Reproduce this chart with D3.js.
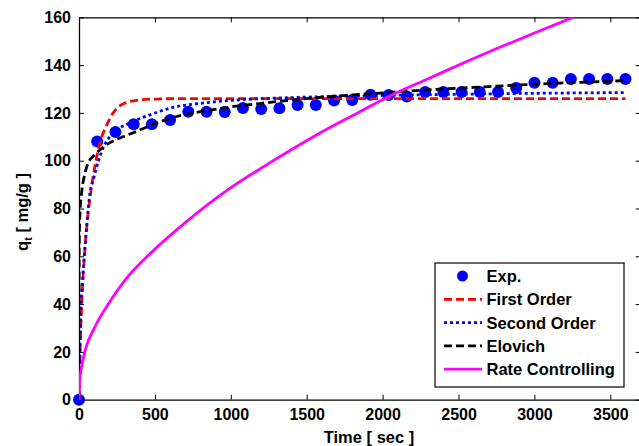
<!DOCTYPE html>
<html>
<head>
<meta charset="utf-8">
<script src="https://cdn.jsdelivr.net/npm/d3@7"></script>
<style>
  html, body { margin: 0; padding: 0; background: #fff; }
  svg { display: block; }
  text { font-family: "Liberation Sans", Arial, Helvetica, sans-serif; font-weight: bold; }
</style>
</head>
<body>
<svg id="chart" width="639" height="446"></svg>
<script>
// Experimental uptake q_t (mg/g) against contact time (sec)
const timeExp = [0, 120, 240, 360, 480, 600, 720, 840, 960, 1080, 1200, 1320, 1440, 1560, 1680, 1800,
                 1920, 2040, 2160, 2280, 2400, 2520, 2640, 2760, 2880, 3000, 3120, 3240, 3360, 3480, 3600];
const qExp = [0, 108, 112, 115.3, 115.2, 117, 120.5, 120.5, 120.4, 122, 121.6, 121.9, 123.3, 123.3, 125.2, 125.4,
              127.6, 127.5, 126.9, 128.7, 128.7, 128.7, 128.7, 128.7, 130.4, 132.6, 132.6, 134.2, 134.2, 134.2, 134.2];

// First order model curve
const timeFirst = [0, 7, 18, 40, 60, 80, 100, 125, 150, 180, 220, 250, 300, 400, 500, 700, 1000, 2000, 3000, 3600];
const qFirst = [0, 20, 40, 64, 78, 88, 96, 104, 110, 114.5, 119.5, 122, 124, 125.4, 125.8, 126, 126, 126, 126, 126];

// Second order model curve
const timeSecond = [0, 5, 13, 20, 30, 50, 72, 94, 127, 160, 226, 336, 468, 600, 800, 1000, 1500, 2000, 2500, 3000, 3600];
const qSecond = [0, 18, 40, 46, 56, 72, 86.5, 92, 99.7, 105.5, 111.6, 115.8, 119.2, 122, 124, 125.2, 126.6, 127.3, 127.8, 128.2, 128.5];

// Elovich model curve
const timeElovich = [0, 1, 2, 5, 10, 20, 40, 60, 105, 182, 270, 380, 512, 643, 800, 1000, 1200, 1500, 1800, 2100, 2400, 2700, 3000, 3300, 3600];
const qElovich = [0, 61, 67.5, 75.6, 81.7, 88, 94.9, 99, 102.5, 106.7, 109.5, 112.3, 115.8, 118.5, 120.5, 122.5, 124, 126, 127.5, 128.8, 130, 131, 132, 132.8, 133.5];

// Rate controlling model curve
const timeRate = [0, 5, 18, 40, 105, 193, 303, 500, 698, 984, 1203, 1401, 1600, 1800, 2071, 2300, 2554, 2800, 3000, 3256];
const qRate = [0, 8, 14, 20.5, 30.5, 40, 50, 63, 74, 88, 97, 104.7, 112, 118.8, 127.8, 134.3, 141.5, 148.2, 153.4, 160];

const xTicks = [0, 500, 1000, 1500, 2000, 2500, 3000, 3500];
const yTicks = [0, 20, 40, 60, 80, 100, 120, 140, 160];

const legendLabels = ["Exp.", "First Order", "Second Order", "Elovich", "Rate Controlling"];

const svg = d3.select("#chart");

const plotLeft = 79, plotRight = 640.7, plotTop = 17.3, plotBottom = 399.7;
const x = d3.scaleLinear().domain([0, 3700]).range([plotLeft, plotRight]);
const y = d3.scaleLinear().domain([0, 160]).range([plotBottom, plotTop]);

svg.append("defs").append("clipPath").attr("id", "plotClip")
  .append("rect").attr("x", plotLeft).attr("y", plotTop)
  .attr("width", plotRight - plotLeft).attr("height", plotBottom - plotTop);

// Axes frame with inward ticks on every side
const tickLen = 5;
const axisStyle = g => {
  g.select(".domain").attr("stroke", "#000").attr("stroke-width", 1.3);
  g.selectAll(".tick line").attr("stroke", "#000").attr("stroke-width", 1);
  g.selectAll(".tick text").attr("fill", "#000").attr("font-size", 16).attr("font-weight", "bold")
    .attr("font-family", "'Liberation Sans', Arial, sans-serif");
};

svg.append("g").attr("transform", `translate(0,${plotBottom})`)
  .call(d3.axisBottom(x).tickValues(xTicks).tickFormat(d3.format("d")).tickSizeInner(-tickLen).tickSizeOuter(0).tickPadding(9))
  .call(axisStyle);
svg.append("g").attr("transform", `translate(0,${plotTop})`)
  .call(d3.axisTop(x).tickValues(xTicks).tickFormat("").tickSizeInner(-tickLen).tickSizeOuter(0))
  .call(axisStyle);
svg.append("g").attr("transform", `translate(${plotLeft},0)`)
  .call(d3.axisLeft(y).tickValues(yTicks).tickFormat(d3.format("d")).tickSizeInner(-tickLen).tickSizeOuter(0).tickPadding(8))
  .call(axisStyle);
svg.append("g").attr("transform", `translate(${plotRight},0)`)
  .call(d3.axisRight(y).tickValues(yTicks).tickFormat("").tickSizeInner(-tickLen).tickSizeOuter(0))
  .call(axisStyle);

// Experimental points (markers are not clipped at the frame)
svg.append("g").selectAll("circle.exp")
  .data(timeExp.map((t, i) => [t, qExp[i]]))
  .join("circle")
  .attr("class", "exp")
  .attr("cx", d => x(d[0]))
  .attr("cy", d => y(d[1]))
  .attr("r", 6)
  .attr("fill", "#0000ff");

const plot = svg.append("g").attr("clip-path", "url(#plotClip)");

const line = d3.line().x(d => x(d[0])).y(d => y(d[1])).curve(d3.curveMonotoneX);
const zip = (ts, qs) => ts.map((t, i) => [t, qs[i]]);

const series = [
  { label: "First Order", data: zip(timeFirst, qFirst), color: "#ff0000", dash: "8,4" },
  { label: "Second Order", data: zip(timeSecond, qSecond), color: "#0000ff", dash: "3,3" },
  { label: "Elovich", data: zip(timeElovich, qElovich), color: "#000000", dash: "8,4" },
  { label: "Rate Controlling", data: zip(timeRate, qRate), color: "#ff00ff", dash: null }
];

series.forEach(s => {
  plot.append("path")
    .datum(s.data)
    .attr("d", line)
    .attr("fill", "none")
    .attr("stroke", s.color)
    .attr("stroke-width", 2.8)
    .attr("stroke-dasharray", s.dash);
});

// Axis titles
svg.append("text")
  .attr("x", 369).attr("y", 443)
  .attr("text-anchor", "middle")
  .attr("font-size", 16.5)
  .text("Time [ sec ]");

const yTitle = svg.append("text")
  .attr("transform", "translate(28,212) rotate(-90)")
  .attr("text-anchor", "middle")
  .attr("font-size", 16.5);
yTitle.append("tspan").text("q");
yTitle.append("tspan").attr("font-size", 11).attr("dy", 4).text("t");
yTitle.append("tspan").attr("dy", -4).text(" [ mg/g ]");

// Legend
const lg = svg.append("g");
lg.append("rect")
  .attr("x", 435).attr("y", 263).attr("width", 189).attr("height", 124)
  .attr("fill", "#fff").attr("stroke", "#000").attr("stroke-width", 1.2);

const rowY = i => 276 + i * 23.3;
lg.append("circle").attr("cx", 462.5).attr("cy", rowY(0)).attr("r", 5.5).attr("fill", "#0000ff");
series.forEach((s, i) => {
  lg.append("line")
    .attr("x1", 444).attr("x2", 482)
    .attr("y1", rowY(i + 1)).attr("y2", rowY(i + 1))
    .attr("stroke", s.color).attr("stroke-width", 2.8)
    .attr("stroke-dasharray", s.dash);
});
legendLabels.forEach((lab, i) => {
  lg.append("text")
    .attr("x", 486.5).attr("y", rowY(i) + 6)
    .attr("font-size", 16.5)
    .text(lab);
});
</script>
</body>
</html>
